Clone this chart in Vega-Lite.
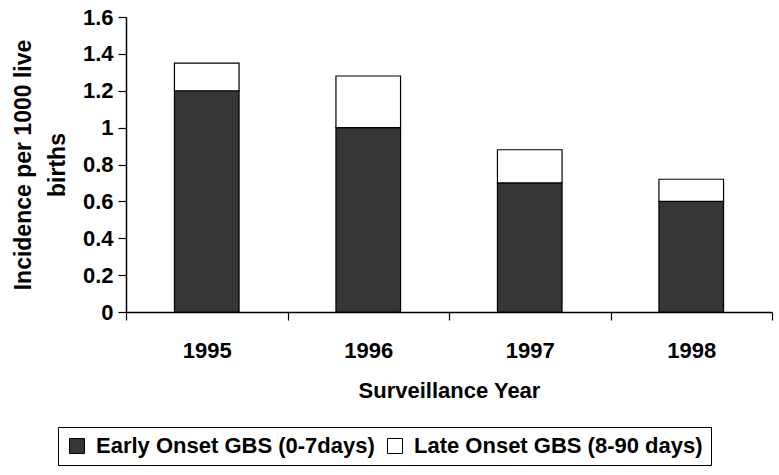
{
  "$schema": "https://vega.github.io/schema/vega-lite/v6.json",
  "width": 646,
  "height": 295,
  "autosize": {"type": "none"},
  "padding": {"left": 126, "top": 17, "right": 7, "bottom": 163},
  "background": "white",
  "config": {
    "view": {"stroke": null},
    "font": "Liberation Sans",
    "axis": {
      "labelFont": "Liberation Sans",
      "titleFont": "Liberation Sans",
      "labelFontWeight": "bold",
      "titleFontWeight": "bold",
      "labelColor": "black",
      "titleColor": "black",
      "domainColor": "black",
      "tickColor": "black",
      "domainWidth": 1.5,
      "tickWidth": 1.2,
      "grid": false
    },
    "legend": {
      "labelFont": "Liberation Sans",
      "labelFontWeight": "bold"
    }
  },
  "data": {
    "values": [
      {"year": "1995", "type": "Early Onset GBS (0-7days)", "value": 1.2},
      {"year": "1995", "type": "Late Onset GBS (8-90 days)", "value": 0.15},
      {"year": "1996", "type": "Early Onset GBS (0-7days)", "value": 1.0},
      {"year": "1996", "type": "Late Onset GBS (8-90 days)", "value": 0.28},
      {"year": "1997", "type": "Early Onset GBS (0-7days)", "value": 0.7},
      {"year": "1997", "type": "Late Onset GBS (8-90 days)", "value": 0.18},
      {"year": "1998", "type": "Early Onset GBS (0-7days)", "value": 0.6},
      {"year": "1998", "type": "Late Onset GBS (8-90 days)", "value": 0.12}
    ]
  },
  "mark": {"type": "bar", "width": {"band": 0.4}, "stroke": "black", "strokeWidth": 1.2},
  "encoding": {
    "x": {
      "field": "year",
      "type": "nominal",
      "scale": {"paddingInner": 0, "paddingOuter": 0},
      "axis": {
        "title": "Surveillance Year",
        "labelAngle": 0,
        "labelFontSize": 22,
        "titleFontSize": 22,
        "tickSize": 8,
        "tickBand": "extent",
        "labelPadding": 20,
        "titlePadding": 19
      }
    },
    "y": {
      "field": "value",
      "type": "quantitative",
      "stack": "zero",
      "scale": {"domain": [0, 1.6], "nice": false},
      "axis": {
        "title": ["Incidence per 1000 live", "births"],
        "values": [0, 0.2, 0.4, 0.6, 0.8, 1, 1.2, 1.4, 1.6],
        "format": "~g",
        "labelFontSize": 22,
        "titleFontSize": 23,
        "titleLineHeight": 34,
        "tickSize": 8,
        "labelPadding": 5,
        "titlePadding": 13
      }
    },
    "color": {
      "field": "type",
      "type": "nominal",
      "scale": {
        "domain": ["Early Onset GBS (0-7days)", "Late Onset GBS (8-90 days)"],
        "range": ["#363636", "#ffffff"]
      },
      "legend": {
        "title": null,
        "orient": "none",
        "direction": "horizontal",
        "legendX": -68,
        "legendY": 410,
        "strokeColor": "black",
        "padding": 8,
        "symbolType": "square",
        "symbolSize": 225,
        "symbolStrokeColor": "black",
        "symbolStrokeWidth": 1,
        "symbolOpacity": 1,
        "labelFontSize": 22,
        "labelColor": "black",
        "labelOffset": 8,
        "columnPadding": 9,
        "labelLimit": 400
      }
    },
    "order": {"field": "type", "sort": "ascending"}
  }
}
